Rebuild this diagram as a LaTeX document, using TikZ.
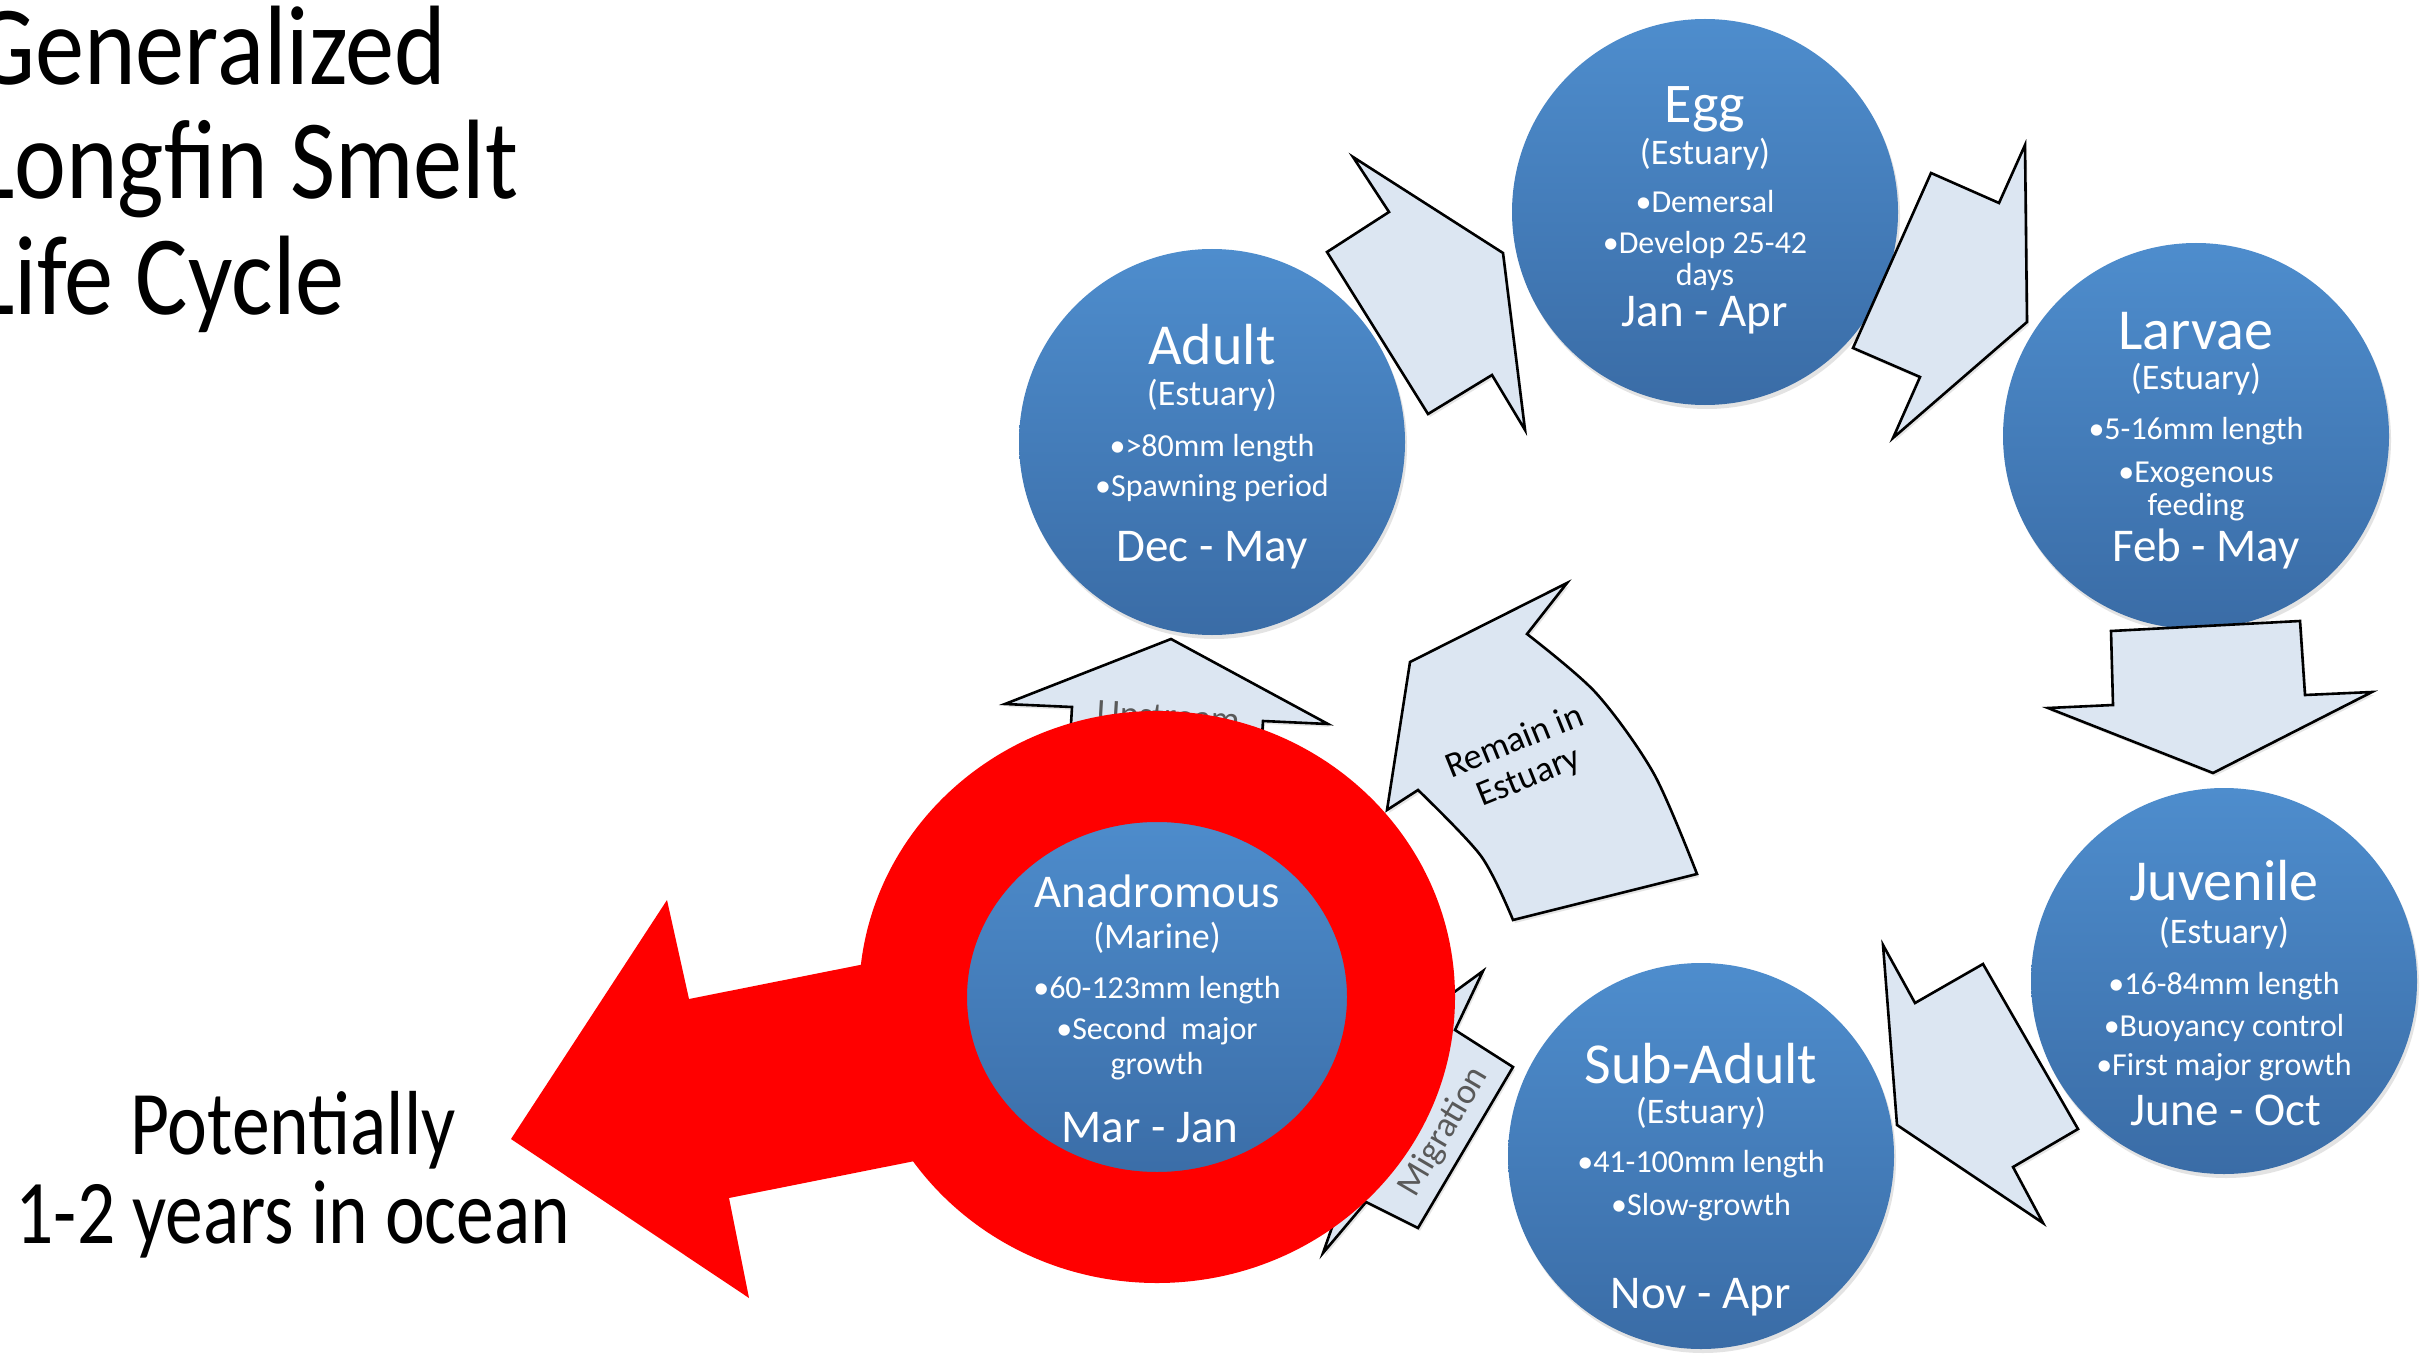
\documentclass[tikz,border=0pt]{standalone}
\usepackage{fontspec}
\setmainfont{Carlito}
\newfontfamily\titlefont{Carlito}[FakeStretch=0.87]
\newfontfamily\notefont{Carlito}[FakeStretch=0.83]
\usetikzlibrary{shadows}
\definecolor{bluetop}{HTML}{4E8DCD}
\definecolor{bluebot}{HTML}{3A6CA6}
\definecolor{arrowfill}{HTML}{DCE6F2}
\definecolor{labgray}{HTML}{595959}
\definecolor{ringred}{HTML}{FF0000}
\tikzset{
  stage/.style={circle, minimum size=386pt, inner sep=0pt, draw=none,
    top color=bluetop, bottom color=bluebot,
    drop shadow={shadow xshift=2pt, shadow yshift=-4pt, opacity=0.22}},
  blockarrow/.style={draw=black, line width=2.6pt, fill=arrowfill, line join=miter,
    drop shadow={shadow xshift=2pt, shadow yshift=-3pt, opacity=0.2}},
  ln/.style={text=white, inner sep=0pt, anchor=base},
  fsA/.style={font=\fontsize{58}{60}\selectfont},
  fsB/.style={font=\fontsize{36}{38}\selectfont},
  fsC/.style={font=\fontsize{32}{34}\selectfont},
  fsD/.style={font=\fontsize{47}{49}\selectfont},
  fsE/.style={font=\fontsize{56}{58}\selectfont},
  titlesty/.style={inner sep=0pt, anchor=base west, font=\titlefont\fontsize{113}{115}\selectfont},
  notesty/.style={inner sep=0pt, anchor=base, font=\notefont\fontsize{91}{93}\selectfont},
  arrlab/.style={inner sep=0pt, font=\fontsize{36}{38}\selectfont, align=center}
}
\begin{document}
\begin{tikzpicture}[x=1pt, y=-1pt]
\useasboundingbox (0,0) rectangle (2435,1356);
\fill[white] (0,0) rectangle (2435,1356);

% stage circles
\node[stage] (adult) at (1212,442) {};
\node[stage] (egg) at (1705,212) {};
\node[stage] (larvae) at (2196,436) {};
\node[stage] (juvenile) at (2224,981) {};
\node[stage] (subadult) at (1701,1156) {};
\node[stage, minimum size=384pt] (anadromous) at (1157,998) {};

% grey block arrows of the cycle
\draw[blockarrow] (1353,157) -- (1503,253) -- (1525,430) -- (1492,375) -- (1428,414) -- (1327,252) -- (1389,212) -- cycle;
\draw[blockarrow] (2025,145) -- (2027,322) -- (1893,438) -- (1920,377) -- (1853,348) -- (1931,173) -- (1999,203) -- cycle;
\draw[blockarrow] (2111,631) -- (2300,621) -- (2305,695) -- (2372,692) -- (2213,773) -- (2048,708) -- (2113,705) -- cycle;
\draw[blockarrow] (1883,945) -- (1915,1003) -- (1983,964) -- (2078,1129) -- (2013,1167) -- (2043,1223) -- (1897,1125) -- cycle;
\draw[blockarrow] (1483,971) -- (1455,1030) -- (1513,1067) -- (1418,1228) -- (1366,1202) -- (1323,1253) -- (1401,1031) -- cycle;
\draw[blockarrow] (1171,639) -- (1328,724) -- (1263,721) -- (1258,796) -- (1067,792) -- (1072,707) -- (1005,704) -- cycle;
\draw[blockarrow] (1410,662) -- (1567,583) -- (1527,634)
  -- plot[smooth] coordinates {(1527,634) (1596,693) (1654,774) (1697,874)}
  -- (1513,920)
  -- plot[smooth] coordinates {(1513,920) (1481,856) (1418,790)}
  -- (1387,810) -- cycle;

% arrow labels
\node[arrlab, rotate=22] (remain) at (1522,760) {Remain in\\Estuary};
\node[arrlab, text=labgray, rotate=59.5] (migration) at (1444,1132) {Migration};
\node[arrlab, text=labgray, anchor=base, rotate=-3.5] (upstream) at (1168,728) {Upstream};

% red highlight
\fill[ringred] (511,1139) -- (667,900) -- (689,999) -- (900,957) -- (960,1152) -- (729,1198) -- (749,1298) -- cycle;
\fill[ringred, even odd rule] (1157,997) ellipse [x radius=298pt, y radius=286pt]
  (1157,997) ellipse [x radius=190pt, y radius=175pt];

% Adult
\node[ln, fsA] (a1) at (1212,364) {Adult};
\node[ln, fsB] (a2) at (1212,405) {(Estuary)};
\node[ln, fsC] (a3) at (1212,456) {•>80mm length};
\node[ln, fsC] (a4) at (1212,496) {•Spawning period};
\node[ln, fsD] (a5) at (1212,561) {Dec - May};
% Egg
\node[ln, fsE] (e1) at (1705,123) {Egg};
\node[ln, fsB] (e2) at (1705,165) {(Estuary)};
\node[ln, fsC] (e3) at (1705,213) {•Demersal};
\node[ln, fsC] (e4) at (1705,254) {•Develop 25-42};
\node[ln, fsC] (e5) at (1705,286) {days};
\node[ln, fsD] (e6) at (1705,326) {Jan - Apr};
% Larvae
\node[ln, fsA] (l1) at (2196,349) {Larvae};
\node[ln, fsB] (l2) at (2196,389) {(Estuary)};
\node[ln, fsC] (l3) at (2196,439) {•5-16mm length};
\node[ln, fsC] (l4) at (2196,482) {•Exogenous};
\node[ln, fsC] (l5) at (2196,515) {feeding};
\node[ln, fsD] (l6) at (2206,561) {Feb - May};
% Juvenile
\node[ln, fsA] (j1) at (2224,900) {Juvenile};
\node[ln, fsB] (j2) at (2224,943) {(Estuary)};
\node[ln, fsC] (j3) at (2224,994) {•16-84mm length};
\node[ln, fsC] (j4) at (2224,1036) {•Buoyancy control};
\node[ln, fsC] (j5) at (2224,1075) {•First major growth};
\node[ln, fsD] (j6) at (2226,1125) {June - Oct};
% Sub-Adult
\node[ln, fsA] (s1) at (1701,1083) {Sub-Adult};
\node[ln, fsB] (s2) at (1701,1123) {(Estuary)};
\node[ln, fsC] (s3) at (1701,1172) {•41-100mm length};
\node[ln, fsC] (s4) at (1701,1215) {•Slow-growth};
\node[ln, fsD] (s5) at (1701,1308) {Nov - Apr};
% Anadromous
\node[ln, fsD] (m1) at (1157,907) {Anadromous};
\node[ln, fsB] (m2) at (1157,948) {(Marine)};
\node[ln, fsC] (m3) at (1157,998) {•60-123mm length};
\node[ln, fsC] (m4) at (1157,1039) {•Second\ \ major};
\node[ln, fsC] (m5) at (1157,1074) {growth};
\node[ln, fsD] (m6) at (1150,1142) {Mar - Jan};

% title and note
\node[titlesty] (title1) at (-27,85) {Generalized};
\node[titlesty] (title2) at (-27,199) {Longfin Smelt};
\node[titlesty] (title3) at (-27,314) {Life Cycle};
\node[notesty] (note1) at (293,1154) {Potentially};
\node[notesty] (note2) at (293,1243) {1-2 years in ocean};
\end{tikzpicture}
\end{document}
